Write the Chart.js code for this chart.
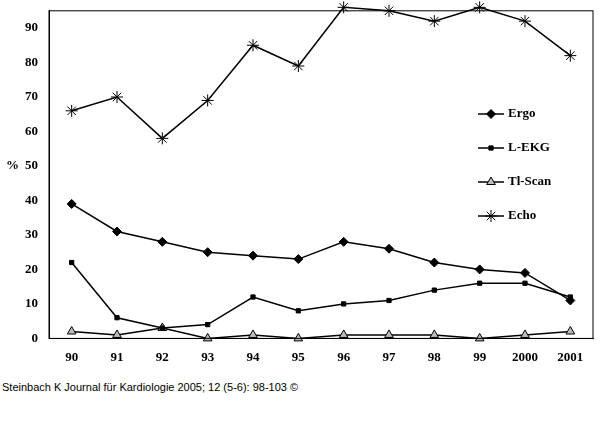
<!DOCTYPE html>
<html>
<head>
<script src="https://cdn.jsdelivr.net/npm/chart.js@4"></script>
<style>
  body { margin: 0; background: #fff; }
  #wrap { width: 600px; height: 368px; }
  #foot { font: 11px "Liberation Sans", sans-serif; margin: 13px 0 0 2px; color: #000; }
</style>
</head>
<body>
<div id="wrap"><canvas id="myChart"></canvas></div>
<div id="foot">Steinbach K Journal für Kardiologie 2005; 12 (5-6): 98-103 ©</div>
<script>
const years = ['90', '91', '92', '93', '94', '95', '96', '97', '98', '99', '2000', '2001']
const ergo = [39, 31, 28, 25, 24, 23, 28, 26, 22, 20, 19, 11]
const lekg = [22, 6, 3, 4, 12, 8, 10, 11, 14, 16, 16, 12]
const tlscan = [2, 1, 3, 0, 1, 0, 1, 1, 1, 0, 1, 2]
const echo = [66, 70, 58, 69, 85, 79, 96, 95, 92, 96, 92, 82]
const yTicks = [0, 10, 20, 30, 40, 50, 60, 70, 80, 90]

const font = { family: 'Liberation Serif', size: 13, weight: 'bold' }

function series (label, data, style, radius, fill) {
  return {
    label,
    data,
    borderColor: '#000',
    borderWidth: 1.5,
    pointStyle: style,
    pointRadius: radius,
    pointBackgroundColor: fill,
    pointBorderColor: '#000',
    pointBorderWidth: 1,
    clip: false
  }
}

const legendPlugin = {
  id: 'sideLegend',
  afterDraw (chart) {
    const ctx = chart.ctx
    const area = chart.chartArea
    ctx.save()
    ctx.font = 'bold 13px "Liberation Serif"'
    ctx.fillStyle = '#000'
    ctx.textBaseline = 'middle'
    ctx.fillText('%', 6, chart.scales.y.getPixelForValue(50))
    const rows = [114, 148, 182, 216]
    chart.data.datasets.forEach((ds, i) => {
      const y = rows[i]
      ctx.strokeStyle = '#000'
      ctx.lineWidth = 1.5
      ctx.beginPath()
      ctx.moveTo(478, y)
      ctx.lineTo(504, y)
      ctx.stroke()
      ctx.fillStyle = ds.pointBackgroundColor
      ctx.lineWidth = 1
      Chart.helpers.drawPoint(ctx, { pointStyle: ds.pointStyle, radius: ds.pointRadius, borderWidth: 1 }, 491, y)
      ctx.fillStyle = '#000'
      ctx.fillText(ds.label, 508, y)
    })
    ctx.strokeStyle = '#000'
    ctx.lineWidth = 1
    ctx.strokeRect(area.left, area.top, area.right - area.left, area.bottom - area.top)
    ctx.restore()
  }
}

new Chart(document.getElementById('myChart'), {
  type: 'line',
  data: {
    labels: years,
    datasets: [
      series('Ergo', ergo, 'rectRot', 4.5, '#000'),
      series('L-EKG', lekg, 'rect', 3, '#000'),
      series('Tl-Scan', tlscan, 'triangle', 5, '#bbb'),
      series('Echo', echo, 'star', 6, '#000')
    ]
  },
  options: {
    responsive: true,
    maintainAspectRatio: false,
    animation: false,
    layout: { padding: { left: 22, right: 7, top: 10 } },
    plugins: { legend: { display: false }, tooltip: { enabled: false } },
    scales: {
      x: {
        offset: true,
        grid: { display: false },
        border: { color: '#000' },
        ticks: { color: '#000', font }
      },
      y: {
        min: 0,
        max: 95,
        afterBuildTicks (axis) { axis.ticks = yTicks.map(v => ({ value: v })) },
        grid: { display: false },
        border: { color: '#000' },
        ticks: { color: '#000', font }
      }
    }
  },
  plugins: [legendPlugin]
})
</script>
</body>
</html>
